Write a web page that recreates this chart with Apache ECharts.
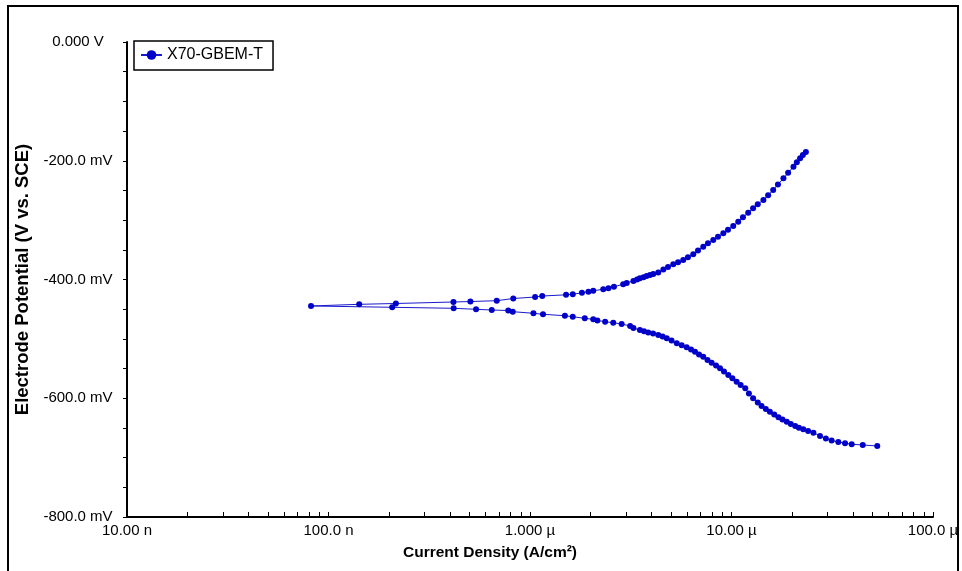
<!DOCTYPE html>
<html lang="en">
<head>
<meta charset="utf-8">
<title>Tafel plot - X70-GBEM-T</title>
<script src="https://cdn.jsdelivr.net/npm/echarts@6/dist/echarts.min.js"></script>
<style>
    html, body { margin: 0; padding: 0; background: #fff; }
    #chart { width: 962px; height: 571px; }
</style>
</head>
<body>
<div id="chart"></div>
<script>
var seriesName = 'X70-GBEM-T';

// scan order: cathodic end -> corrosion potential -> anodic end
// current density, A/cm2
var current = [
    5.29e-5, 4.48e-5, 3.95e-5, 3.66e-5, 3.39e-5, 3.14e-5, 2.94e-5, 2.75e-5, 2.55e-5, 2.40e-5,
    2.27e-5, 2.16e-5, 2.07e-5, 1.97e-5, 1.88e-5, 1.79e-5, 1.71e-5, 1.63e-5, 1.55e-5, 1.48e-5,
    1.41e-5, 1.35e-5, 1.28e-5, 1.22e-5, 1.17e-5, 1.11e-5, 1.06e-5, 1.01e-5, 9.64e-6, 9.18e-6,
    8.77e-6, 8.38e-6, 7.97e-6, 7.60e-6, 7.24e-6, 6.90e-6, 6.59e-6, 6.30e-6, 5.99e-6, 5.66e-6,
    5.35e-6, 5.04e-6, 4.77e-6, 4.55e-6, 4.33e-6, 4.08e-6, 3.86e-6, 3.68e-6, 3.51e-6, 3.26e-6,
    3.14e-6, 2.85e-6, 2.59e-6, 2.36e-6, 2.16e-6, 2.06e-6, 1.87e-6, 1.63e-6, 1.49e-6, 1.16e-6,
    1.04e-6, 8.21e-7, 7.80e-7, 6.46e-7, 5.40e-7, 4.18e-7, 2.07e-7,
    8.19e-8,
    1.42e-7, 2.16e-7, 4.17e-7, 5.06e-7, 6.84e-7, 8.26e-7, 1.06e-6, 1.15e-6, 1.51e-6, 1.63e-6,
    1.81e-6, 1.95e-6, 2.06e-6, 2.31e-6, 2.45e-6, 2.61e-6, 2.90e-6, 3.02e-6, 3.26e-6, 3.40e-6,
    3.51e-6, 3.66e-6, 3.79e-6, 3.94e-6, 4.09e-6, 4.33e-6, 4.59e-6, 4.84e-6, 5.14e-6, 5.43e-6,
    5.76e-6, 6.08e-6, 6.46e-6, 6.82e-6, 7.24e-6, 7.64e-6, 8.12e-6, 8.57e-6, 9.11e-6, 9.61e-6,
    1.02e-5, 1.08e-5, 1.14e-5, 1.21e-5, 1.28e-5, 1.35e-5, 1.44e-5, 1.52e-5, 1.61e-5, 1.70e-5,
    1.81e-5, 1.91e-5, 2.03e-5, 2.11e-5, 2.19e-5, 2.26e-5, 2.34e-5
];
// electrode potential, mV vs SCE
var potential = [
    -680.4, -678.7, -677.4, -675.7, -673.7, -671.2, -667.8, -663.6, -658.0, -655.2,
    -652.3, -649.8, -646.7, -643.4, -639.5, -635.8, -632.1, -627.4, -622.6, -618.1,
    -613.1, -607.2, -600.1, -592.0, -583.2, -577.7, -572.1, -566.4, -560.8, -554.9,
    -549.6, -544.9, -540.1, -535.6, -530.3, -526.3, -521.6, -517.9, -514.2, -510.8,
    -507.5, -502.7, -499.0, -496.0, -493.5, -490.9, -489.3, -487.2, -485.1, -481.7,
    -478.3, -474.9, -472.8, -471.1, -469.1, -467.0, -465.4, -462.7, -461.0, -458.6,
    -456.9, -454.2, -452.2, -451.4, -450.2, -448.5, -446.8,
    -444.6,
    -441.8, -440.4, -437.9, -437.1, -435.7, -432.0, -429.5, -427.8, -425.8, -424.8,
    -422.4, -420.5, -418.9, -416.5, -414.8, -412.1, -408.1, -405.7, -402.4, -400.0,
    -398.0, -396.1, -394.1, -392.4, -390.7, -388.2, -383.2, -378.9, -374.4, -370.9,
    -367.2, -362.4, -357.6, -351.2, -344.8, -339.0, -333.5, -327.9, -322.2, -316.3,
    -309.9, -302.8, -295.2, -287.7, -280.1, -273.2, -266.1, -258.0, -249.3, -240.0,
    -229.6, -220.3, -210.0, -202.6, -195.9, -190.3, -185.3
];

var xDecades = [1e-8, 1e-7, 1e-6, 1e-5, 1e-4];
var yMin = -800, yMax = 0, yStep = 200;

var points = [];
for (var i = 0; i < current.length; i++) {
    points.push([current[i], potential[i]]);
}

// log minor ticks 1..9 in each decade
var xTickValues = [];
for (var d = 0; d < xDecades.length - 1; d++) {
    for (var k = 1; k < 10; k++) {
        xTickValues.push(k * xDecades[d]);
    }
}
xTickValues.push(xDecades[xDecades.length - 1]);

function fmtCurrent(v) {
    var e = Math.round(Math.log10(v));
    if (e < -6) {
        return (v / 1e-9).toPrecision(4) + ' n';
    }
    return (v / 1e-6).toPrecision(4) + ' \u00b5';
}

function fmtPotential(v) {
    if (v === 0) return '0.000 V';
    return v.toFixed(1) + ' mV';
}

var font = 'Arial, "Liberation Sans", sans-serif';
var chart = echarts.init(document.getElementById('chart'));

var option = {
    animation: false,
    backgroundColor: '#fff',
    grid: { left: 127, right: 29, top: 42, bottom: 54, containLabel: false },
    legend: {
        left: 134,
        top: 41,
        orient: 'vertical',
        backgroundColor: '#fff',
        borderColor: '#000',
        borderWidth: 1.5,
        borderRadius: 0,
        padding: [6, 10, 7, 6],
        itemWidth: 21,
        itemHeight: 12,
        textStyle: { fontFamily: font, fontSize: 16, color: '#000' },
        data: [seriesName]
    },
    xAxis: {
        type: 'log',
        logBase: 10,
        min: xDecades[0],
        max: xDecades[xDecades.length - 1],
        name: 'Current Density (A/cm\u00b2)',
        nameLocation: 'middle',
        nameGap: 28,
        nameTextStyle: { fontFamily: font, fontSize: 15.5, fontWeight: 'bold', color: '#000', padding: [0, 80, 0, 0] },
        axisLine: { onZero: false, lineStyle: { color: '#000', width: 2 } },
        axisTick: { show: true, inside: true, length: 5, lineStyle: { color: '#000', width: 1 }, customValues: xTickValues },
        axisLabel: { fontFamily: font, fontSize: 15, color: '#000', margin: 6, customValues: xDecades, formatter: fmtCurrent },
        splitLine: { show: false }
    },
    yAxis: {
        type: 'value',
        min: yMin,
        max: yMax,
        interval: yStep,
        name: 'Electrode Potential (V vs. SCE)',
        nameLocation: 'middle',
        nameGap: 95,
        nameRotate: 90,
        nameTextStyle: { fontFamily: font, fontSize: 18.5, fontWeight: 'bold', color: '#000' },
        axisLine: { show: true, lineStyle: { color: '#000', width: 2 } },
        axisTick: { show: true, length: 4, lineStyle: { color: '#000', width: 1 } },
        minorTick: { show: true, splitNumber: 4, length: 4, lineStyle: { color: '#000', width: 1 } },
        axisLabel: { fontFamily: font, fontSize: 15, color: '#000', align: 'center', margin: 49, formatter: fmtPotential },
        splitLine: { show: false }
    },
    graphic: [{
        type: 'rect',
        silent: true,
        shape: { x: 8, y: 6, width: 950, height: 600 },
        style: { fill: 'none', stroke: '#000', lineWidth: 2 }
    }],
    series: [{
        name: seriesName,
        type: 'line',
        data: points,
        symbol: 'circle',
        symbolSize: 6,
        showSymbol: true,
        showAllSymbol: true,
        color: '#0000c8',
        itemStyle: { color: '#0000c8' },
        lineStyle: { color: '#1a1acc', width: 1 }
    }]
};
chart.setOption(option);
</script>
</body>
</html>
